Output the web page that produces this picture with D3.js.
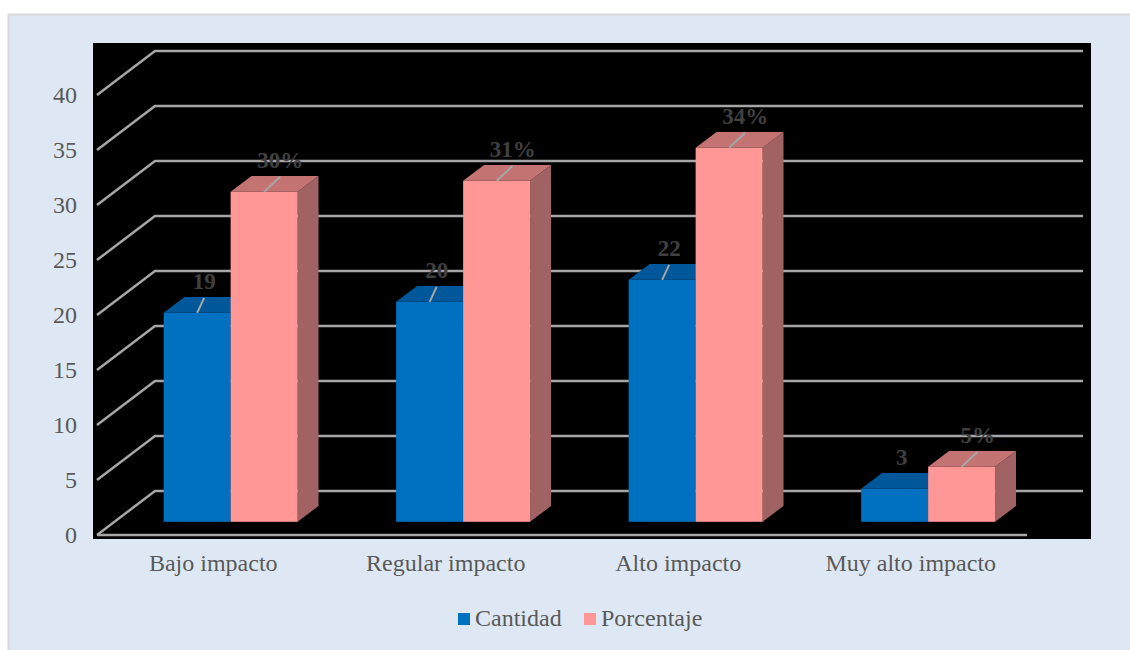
<!DOCTYPE html>
<html>
<head>
<meta charset="utf-8">
<script src="https://cdn.jsdelivr.net/npm/d3@7"></script>
<style>
  body { margin: 0; background: #fff; }
  svg { display: block; font-family: "Liberation Serif", "Times New Roman", serif; }
</style>
</head>
<body>
<svg id="chart" width="1130" height="650"></svg>
<script>
const categories = ["Bajo impacto", "Regular impacto", "Alto impacto", "Muy alto impacto"]
const seriesNames = ["Cantidad", "Porcentaje"]
const cantidad = [19, 20, 22, 3]
const porcentaje = [30, 31, 34, 5]
const yTicks = [0, 5, 10, 15, 20, 25, 30, 35, 40]

const colours = {
  Cantidad: { front: "#0070c0", top: "#00589a", side: "#004f88" },
  Porcentaje: { front: "#ff9797", top: "#c47373", side: "#a06262" }
}

const svg = d3.select("#chart")

// Panel and plot background
svg.append("rect")
  .attr("x", 8.5).attr("y", 14.5)
  .attr("width", 1130).attr("height", 650)
  .attr("fill", "#dee8f4")
  .attr("stroke", "#d9d9d9")
  .attr("stroke-width", 2)

svg.append("rect")
  .attr("x", 93).attr("y", 43)
  .attr("width", 998).attr("height", 496)
  .attr("fill", "#000")

// 3D box: front plane scales plus a depth offset
const depth = { dx: 58, dy: 44 }
const x = d3.scaleBand().domain(categories).range([97, 1027])
const y = d3.scaleLinear().domain([0, 40]).range([535, 95])
const groupWidth = 134
const xs = d3.scaleBand().domain(seriesNames)
  .range([(x.bandwidth() - groupWidth) / 2, (x.bandwidth() + groupWidth) / 2])

const barFront = 0.3   // where the bars start, as a fraction of the depth
const barDepth = 0.36  // how deep the bars are

// Gridlines (side wall + back wall)
let grid = svg.append("g")
  .attr("stroke", "#a6a6a6")
  .attr("stroke-width", 2.5)
  .attr("fill", "none")

grid.selectAll("path.grid")
  .data(yTicks)
  .join("path")
  .attr("class", "grid")
  .attr("d", v => {
    let y0 = y(v)
    return `M${97},${y0}L${97 + depth.dx},${y0 - depth.dy}L${1083},${y0 - depth.dy}`
  })

grid.append("line")
  .attr("x1", 97).attr("x2", 1027)
  .attr("y1", y(0)).attr("y2", y(0))

// Y axis labels
svg.append("g")
  .selectAll("text")
  .data(yTicks)
  .join("text")
  .attr("x", 77)
  .attr("y", v => y(v))
  .attr("dy", "0.35em")
  .attr("text-anchor", "end")
  .attr("font-size", 24)
  .attr("fill", "#595959")
  .text(v => v)

// Bars
const bars = []
categories.forEach((c, i) => {
  bars.push({ cat: c, series: "Cantidad", value: cantidad[i], label: `${cantidad[i]}`, off: 7 })
  bars.push({ cat: c, series: "Porcentaje", value: porcentaje[i], label: `${porcentaje[i]}%`, off: 16 })
})

const sx = barFront * depth.dx, sy = barFront * depth.dy
const bdx = barDepth * depth.dx, bdy = barDepth * depth.dy

svg.append("g")
  .selectAll("g.bar")
  .data(bars)
  .join("g")
  .attr("class", "bar")
  .each(function(d) {
    let g = d3.select(this)
    let x0 = x(d.cat) + xs(d.series) + sx
    let x1 = x0 + xs.bandwidth()
    let yb = y(0) - sy
    let yt = y(d.value) - sy
    let col = colours[d.series]
    g.append("polygon")
      .attr("points", [[x1, yt], [x1 + bdx, yt - bdy], [x1 + bdx, yb - bdy], [x1, yb]].join(" "))
      .attr("fill", col.side)
    g.append("polygon")
      .attr("points", [[x0, yt], [x0 + bdx, yt - bdy], [x1 + bdx, yt - bdy], [x1, yt]].join(" "))
      .attr("fill", col.top)
    g.append("rect")
      .attr("x", x0).attr("y", yt)
      .attr("width", x1 - x0).attr("height", yb - yt)
      .attr("fill", col.front)
    d._cx = (x0 + x1) / 2
    d._top = yt
  })

// Data labels, with leader lines on all but the tiny bar
let labels = svg.append("g")
bars.forEach(d => {
  if (d.value >= 5) {
    labels.append("line")
      .attr("x1", d._cx).attr("y1", d._top)
      .attr("x2", d._cx + d.off).attr("y2", d._top - 15)
      .attr("stroke", "#a6a6a6")
      .attr("stroke-width", 2)
  }
  labels.append("text")
    .attr("x", d._cx + d.off)
    .attr("y", d._top - 24)
    .attr("text-anchor", "middle")
    .attr("font-size", 23)
    .attr("font-weight", "bold")
    .attr("fill", "#404040")
    .text(d.label)
})

// Category labels
svg.append("g")
  .selectAll("text")
  .data(categories)
  .join("text")
  .attr("x", c => x(c) + x.bandwidth() / 2)
  .attr("y", 571)
  .attr("text-anchor", "middle")
  .attr("font-size", 24)
  .attr("fill", "#595959")
  .text(c => c)

// Legend
const legendX = [458, 584]
let legend = svg.append("g")
  .selectAll("g.entry")
  .data(seriesNames)
  .join("g")
  .attr("class", "entry")
  .attr("transform", (s, i) => `translate(${legendX[i]},613)`)
legend.append("rect")
  .attr("width", 12).attr("height", 12)
  .attr("fill", s => colours[s].front)
legend.append("text")
  .attr("x", 17).attr("y", 13)
  .attr("font-size", 24)
  .attr("fill", "#595959")
  .text(s => s)
</script>
</body>
</html>
